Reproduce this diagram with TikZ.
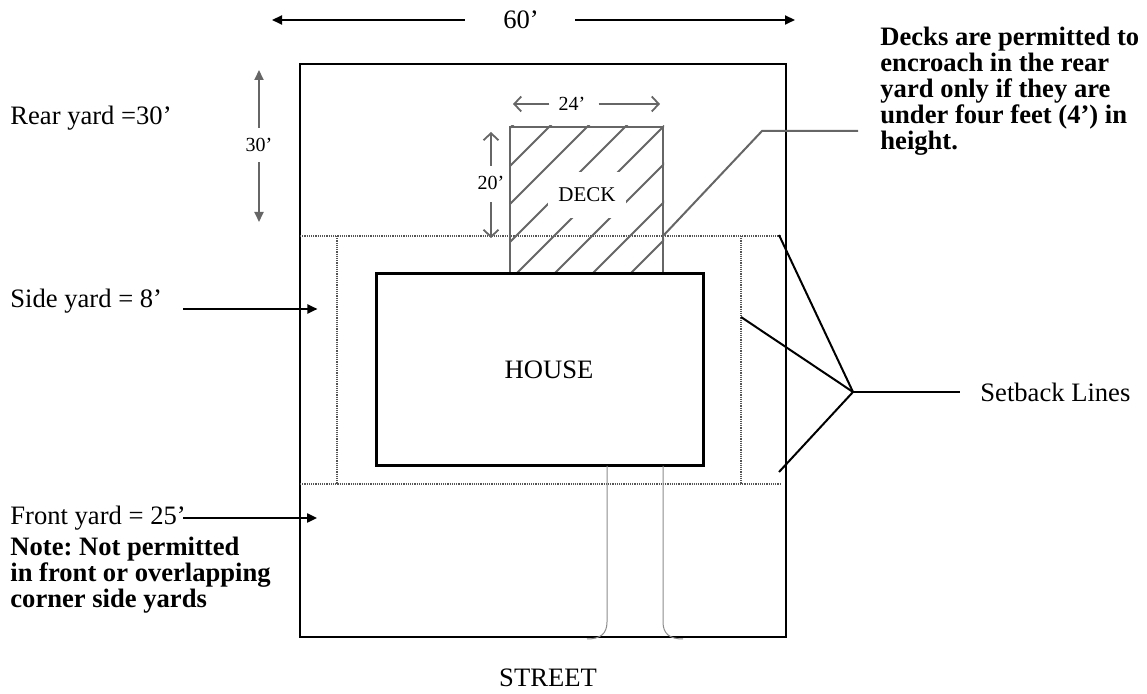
\documentclass[tikz,border=0pt]{standalone}
\usepackage{fontspec}
\setmainfont{Liberation Serif}
\usetikzlibrary{arrows.meta,positioning}
\frenchspacing

\definecolor{colorline}{HTML}{000000}
\definecolor{colordeck}{HTML}{666666}
\definecolor{colorsetb}{HTML}{555555}
\definecolor{colordrive}{HTML}{8C8C8C}
\newcommand{\yardarrow}[2]{\draw[blackarrow] (#1) -- ++(#2,0);}
\newcommand{\dimline}[4]{\draw[#1, shorten <=#4] (#2) -- (#3);}
\tikzset{
		basic/.style={inner sep=0pt, text=colorline, font=\fontsize{13.3}{13}\selectfont},
		plain/.style={basic, anchor=west},
		boldnote/.style={basic, font=\fontsize{13.3}{13}\selectfont\bfseries, align=left, anchor=north west},
		dimlabel/.style={basic, font=\fontsize{10}{10}\selectfont},
		blackarrow/.style={draw=colorline, line width=1pt, -{Triangle[length=5pt,width=4.5pt]}},
		greyarrow/.style={blackarrow, draw=colordeck},
		openarrow/.style={draw=colordeck, line width=0.9pt, -{Straight Barb[length=3.5pt,width=7.5pt]}},
		lot/.style={draw=colorline, line width=1pt},
		house/.style={basic, draw, line width=1.5pt, minimum width=163.5pt, minimum height=96pt},
		deckbox/.style={basic, draw=colordeck, line width=1pt, minimum width=76.5pt, minimum height=73.5pt},
		hatch/.style={draw=colordeck, line width=0.9pt},
		setback/.style={draw=colorsetb, line width=0.6pt, dash pattern=on 0.6pt off 0.5pt},
		pointer/.style={draw=colorline, line width=1pt},
		drive/.style={draw=colordrive, line width=0.5pt}
	}

\begin{document}
\begin{tikzpicture}[x=0.5pt, y=-0.5pt]
		\useasboundingbox (0,0) rectangle (1147,694);
		% lot
		\draw[lot] (300,64) rectangle (786,637);
		% setback lines
		\draw[setback] (300,236) -- (780,236);
		\draw[setback] (300,484) -- (780,484);
		\draw[setback] (337,236) -- (337,484);
		\draw[setback] (741,236) -- (741,484);
		
		% deck
		\node[deckbox](deck) at (586.5,200.5) {};
		\begin{scope}
			\clip (deck.south west) rectangle (deck.north east);
			\foreach \h in {638,676,...,942}
				\draw[hatch] (\h-100,100) -- (\h-300,300);
		\end{scope}
		\node[basic, fill=white, inner xsep=5pt, inner ysep=8pt, font=\fontsize{10.5}{10}\selectfont](decklbl) at (587,195) {DECK};
		
		% house
		\node[house](house) at (539.5,370) {};
		\node[basic](houselbl) at (549,370) {HOUSE};
		\draw[drive] (607,466) -- (607,622) .. controls (607,634) and (600,639) .. (587,639);
		\draw[drive] (663,466) -- (663,622) .. controls (663,634) and (670,639) .. (683,639);
		\node[basic](street) at (548,678) {STREET};
		
		% dimensions
		\node[basic](dim60) at (521,20) {60'};
		\coordinate (dim60w) at (272,20);
		\coordinate (dim60e) at (795,20);
		\dimline{blackarrow}{dim60.west}{dim60w}{19pt}
		\dimline{blackarrow}{dim60.east}{dim60e}{18pt}
		
		\node[dimlabel](dim30) at (259,145) {30'};
		\dimline{greyarrow}{dim30.north}{259,70}{5pt}
		\dimline{greyarrow}{dim30.south}{259,222}{5pt}
		
		\node[dimlabel](dim20) at (491,183) {20'};
		\dimline{openarrow}{dim20.north}{491,132}{5pt}
		\dimline{openarrow}{dim20.south}{491,238}{6pt}
		
		\node[dimlabel](dim24) at (572,104) {24'};
		\dimline{openarrow}{dim24.west}{513,104}{4.5pt}
		\dimline{openarrow}{dim24.east}{660,104}{6.5pt}
		
		% yards
		\node[plain](rear) at (10,118) {Rear yard =30'};
		\node[plain](side) at (10,301) {Side yard = 8'};
		\node[plain](front) at (10,518) {Front yard = 25'};
		\node[boldnote](note) at (10,537) {Note: Not permitted\\in front or overlapping\\corner side yards};
		\yardarrow{[xshift=10.5pt,yshift=-4pt]side.east}{134}
		\yardarrow{[xshift=-1.5pt]front.east}{134}
		
		% deck note
		\node[boldnote](decks) at (880,27) {Decks are permitted to\\encroach in the rear\\yard only if they are\\under four feet (4') in\\height.};
		\coordinate (deckcall) at (663,236);
		\draw[pointer, draw=colordeck, shorten >=11pt] (deckcall) -- (762,131) -- (decks.west |- 762,131);
		
		% setback label
		\node[plain](setb) at (980,392) {Setback Lines};
		\coordinate (junc) at (853,392);
		\draw[pointer] (junc) -- (779,235);
		\draw[pointer] (junc) -- (741,317);
		\draw[pointer] (junc) -- (779,472);
		\draw[pointer, shorten >=10pt] (junc) -- (setb.west);
	\end{tikzpicture}
\end{document}
